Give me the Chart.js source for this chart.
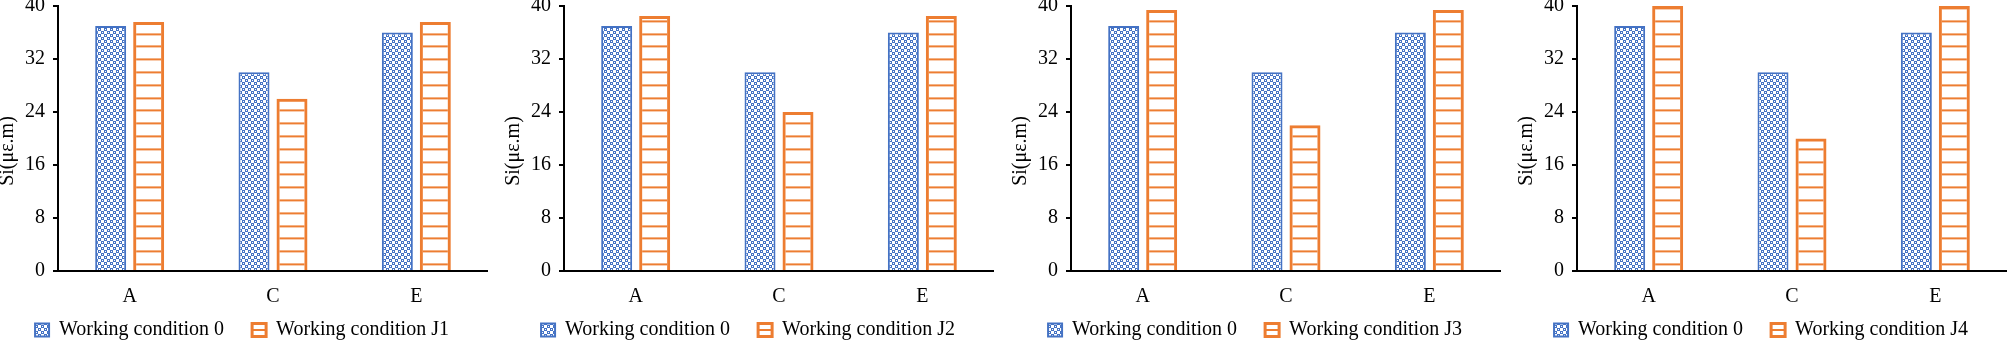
<!DOCTYPE html>
<html>
<head>
<meta charset="utf-8">
<script src="https://cdn.jsdelivr.net/npm/chart.js@4"></script>
<style>
  html, body { margin: 0; padding: 0; background: #fff; width: 2008px; height: 340px; overflow: hidden; position: relative; }
  canvas { position: absolute; top: -14px; }
</style>
</head>
<body>
<canvas id="c1" width="492" height="383" style="left:-4px"></canvas>
<canvas id="c2" width="492" height="383" style="left:502px"></canvas>
<canvas id="c3" width="492" height="383" style="left:1009px"></canvas>
<canvas id="c4" width="492" height="383" style="left:1515px"></canvas>
<script>
    const categories = ['A', 'C', 'E'];
    const baseSeries = [37, 30, 36];
    const j1Series = [37.6, 26, 37.6];
    const j2Series = [38.5, 24, 38.5];
    const j3Series = [39.4, 22, 39.4];
    const j4Series = [40, 20, 40];
    const baseLabel = 'Working condition 0';
    const caseLabels = ['Working condition J1', 'Working condition J2', 'Working condition J3', 'Working condition J4'];
    const caseSeries = [j1Series, j2Series, j3Series, j4Series];
    const yTitle = 'Si(με.m)     ';

    const blue = '#4472C4';
    const orange = '#ED7D31';
    const font = { family: "'Liberation Serif', 'Times New Roman', serif", size: 20 };

    function checkPattern(ctx) {
        const tile = document.createElement('canvas');
        tile.width = 6; tile.height = 6;
        const t = tile.getContext('2d');
        t.fillStyle = '#fff';
        t.fillRect(0, 0, 6, 6);
        t.fillStyle = blue;
        t.fillRect(0, 0, 3, 3);
        t.fillRect(3, 3, 3, 3);
        t.fillStyle = '#fff';
        t.fillRect(1, 1, 1, 1);
        t.fillRect(4, 4, 1, 1);
        return ctx.createPattern(tile, 'repeat');
    }

    // horizontal orange lines every ~12.8px, shifted so they sit where the reference has them
    function stripePattern(ctx, offsetY) {
        const tile = document.createElement('canvas');
        tile.width = 1; tile.height = 64;
        const t = tile.getContext('2d');
        t.fillStyle = orange;
        for (let k = 0; k < 5; k++) t.fillRect(0, Math.round(k * 12.8), 1, 2);
        const p = ctx.createPattern(tile, 'repeat');
        p.setTransform(new DOMMatrix().translate(0, offsetY));
        return p;
    }

    // x labels need a tall axis box (they get clipped to it), so pull the legend back up
    const liftLegend = {
        id: 'liftLegend',
        afterLayout(chart) {
            chart.legend.top -= 19;
            chart.legend.bottom -= 19;
        }
    };

    function makeChart(id, caseLabel, values) {
        const ctx = document.getElementById(id).getContext('2d');
        const barStripes = stripePattern(ctx, 21.4);
        const legendStripes = stripePattern(ctx, 343);

        return new Chart(ctx, {
            type: 'bar',
            data: {
                labels: categories,
                datasets: [
                    {
                        label: baseLabel,
                        data: baseSeries,
                        backgroundColor: checkPattern(ctx),
                        borderColor: blue,
                        borderWidth: 2,
                    },
                    {
                        label: caseLabel,
                        data: values,
                        backgroundColor: barStripes,
                        borderColor: orange,
                        borderWidth: 3,
                    }
                ]
            },
            plugins: [liftLegend],
            options: {
                responsive: false,
                animation: false,
                categoryPercentage: 0.53,
                barPercentage: 0.816,
                layout: { padding: 0 },
                plugins: {
                    tooltip: { enabled: false },
                    legend: {
                        position: 'bottom',
                        labels: {
                            color: '#000',
                            font: font,
                            boxWidth: 14,
                            boxHeight: 13,
                            padding: 28,
                            generateLabels(chart) {
                                const items = Chart.defaults.plugins.legend.labels.generateLabels(chart);
                                items[1].fillStyle = legendStripes;
                                return items;
                            }
                        }
                    }
                },
                scales: {
                    x: {
                        grid: { display: false, drawTicks: false },
                        border: { display: true, color: '#000', width: 2 },
                        ticks: { color: '#000', font: font, padding: 14 },
                        afterFit(scale) { scale.height = 40; }
                    },
                    y: {
                        min: 0,
                        max: 40,
                        ticks: { stepSize: 8, color: '#000', font: font, padding: 8 },
                        grid: { drawOnChartArea: false, drawTicks: true, tickLength: 5, color: '#000', lineWidth: 2 },
                        border: { color: '#000', width: 2 },
                        title: { display: true, text: yTitle, color: '#000', font: font, padding: 0 },
                        afterFit(scale) { scale.width = 62; }
                    }
                }
            }
        });
    }

    makeChart('c1', caseLabels[0], caseSeries[0]);
    makeChart('c2', caseLabels[1], caseSeries[1]);
    makeChart('c3', caseLabels[2], caseSeries[2]);
    makeChart('c4', caseLabels[3], caseSeries[3]);
</script>
</body>
</html>
